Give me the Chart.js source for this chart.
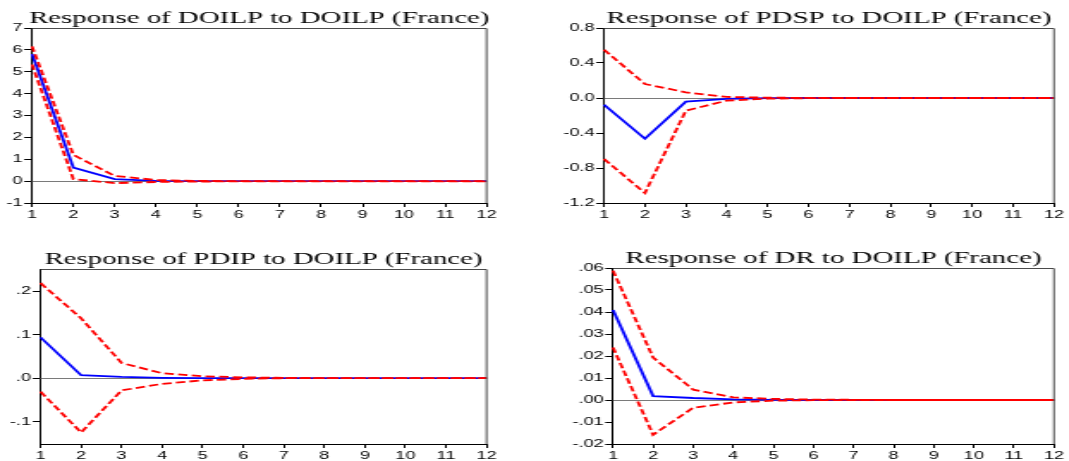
<!DOCTYPE html>
<html>
<head>
<meta charset="utf-8">
<script src="https://cdn.jsdelivr.net/npm/chart.js@4.4.1/dist/chart.umd.min.js"></script>
<style>
  html, body { margin: 0; padding: 0; background: #ffffff; }
  body { width: 1069px; height: 461px; position: relative; overflow: hidden; }
  .panel { position: absolute; transform-origin: 0 0; }
  .panel canvas { display: block; }
</style>
</head>
<body>
<div class="panel" id="p1"><canvas id="c1"></canvas></div>
<div class="panel" id="p2"><canvas id="c2"></canvas></div>
<div class="panel" id="p3"><canvas id="c3"></canvas></div>
<div class="panel" id="p4"><canvas id="c4"></canvas></div>
<script>
// ---------------- DATA ----------------
const periods = ['1','2','3','4','5','6','7','8','9','10','11','12'];

const titles = [
  'Response of DOILP to DOILP (France)',
  'Response of PDSP to DOILP (France)',
  'Response of PDIP to DOILP (France)',
  'Response of DR to DOILP (France)'
];

// Response of DOILP to DOILP
const doilpResp  = [5.81, 0.62, 0.09, 0.01, 0.00, 0.00, 0.00, 0.00, 0.00, 0.00, 0.00, 0.00];
const doilpUpper = [6.16, 1.20, 0.24, 0.05, 0.01, 0.00, 0.00, 0.00, 0.00, 0.00, 0.00, 0.00];
const doilpLower = [5.33, 0.09, -0.09, -0.04, -0.02, -0.01, -0.01, -0.01, -0.01, -0.01, -0.01, -0.01];
const doilpTicks = [-1, 0, 1, 2, 3, 4, 5, 6, 7];
const doilpTickLabels = ['-1', '0', '1', '2', '3', '4', '5', '6', '7'];

// Response of PDSP to DOILP
const pdspResp  = [-0.076, -0.465, -0.042, -0.010, -0.002, 0.000, 0.000, 0.000, 0.000, 0.000, 0.000, 0.000];
const pdspUpper = [0.552, 0.160, 0.065, 0.012, 0.004, 0.001, 0.000, 0.000, 0.000, 0.000, 0.000, 0.000];
const pdspLower = [-0.697, -1.086, -0.145, -0.030, -0.008, -0.002, 0.000, 0.000, 0.000, 0.000, 0.000, 0.000];
const pdspTicks = [-1.2, -0.8, -0.4, 0.0, 0.4, 0.8];
const pdspTickLabels = ['-1.2', '-0.8', '-0.4', '0.0', '0.4', '0.8'];

// Response of PDIP to DOILP
const pdipResp  = [0.094, 0.007, 0.003, 0.001, 0.000, 0.000, 0.000, 0.000, 0.000, 0.000, 0.000, 0.000];
const pdipUpper = [0.219, 0.138, 0.035, 0.0115, 0.0046, 0.002, 0.001, 0.000, 0.000, 0.000, 0.000, 0.000];
const pdipLower = [-0.031, -0.125, -0.028, -0.013, -0.005, -0.0015, 0.000, 0.000, 0.000, 0.000, 0.000, 0.000];
const pdipTicks = [-0.1, 0.0, 0.1, 0.2];
const pdipTickLabels = ['-.1', '.0', '.1', '.2'];

// Response of DR to DOILP
const drResp  = [0.0409, 0.0018, 0.0009, 0.0003, 0.0001, 0.0000, 0.0000, 0.0000, 0.0000, 0.0000, 0.0000, 0.0000];
const drUpper = [0.0588, 0.0193, 0.0047, 0.0012, 0.0005, 0.0002, 0.0001, 0.0000, 0.0000, 0.0000, 0.0000, 0.0000];
const drLower = [0.0239, -0.0158, -0.0035, -0.0011, -0.0003, -0.0001, 0.0000, 0.0000, 0.0000, 0.0000, 0.0000, 0.0000];
const drTicks = [-0.02, -0.01, 0.00, 0.01, 0.02, 0.03, 0.04, 0.05, 0.06];
const drTickLabels = ['-.02', '-.01', '.00', '.01', '.02', '.03', '.04', '.05', '.06'];

// ---------------- LAYOUT ----------------
const S = 1.72; // horizontal stretch of the original picture

const panels = [
  { div: 'p1', canvas: 'c1', x0: 0,   y0: 0,   w: 500, h: 222, left: 32,  right: 490,  top: 28,  bottom: 203,
    title: titles[0], resp: doilpResp, up: doilpUpper, lo: doilpLower, yMin: -1, yMax: 7, ticks: doilpTicks, labels: doilpTickLabels },
  { div: 'p2', canvas: 'c2', x0: 560, y0: 0,   w: 509, h: 222, left: 604, right: 1054, top: 28,  bottom: 203,
    title: titles[1], resp: pdspResp, up: pdspUpper, lo: pdspLower, yMin: -1.2, yMax: 0.8, ticks: pdspTicks, labels: pdspTickLabels },
  { div: 'p3', canvas: 'c3', x0: 0,   y0: 240, w: 500, h: 221, left: 40.5, right: 491, top: 269, bottom: 444,
    title: titles[2], resp: pdipResp, up: pdipUpper, lo: pdipLower, yMin: -0.1515, yMax: 0.2515, ticks: pdipTicks, labels: pdipTickLabels },
  { div: 'p4', canvas: 'c4', x0: 560, y0: 240, w: 509, h: 221, left: 613, right: 1054, top: 268, bottom: 444,
    title: titles[3], resp: drResp, up: drUpper, lo: drLower, yMin: -0.02, yMax: 0.06, ticks: drTicks, labels: drTickLabels }
];

const tickFont = { family: "'Liberation Sans', Arial, sans-serif", size: 10.5 };
const titleFont = "16.8px 'Liberation Serif', 'Times New Roman', serif";

const framePlugin = {
  id: 'frame',
  beforeDatasetsDraw(chart) {
    const { ctx, chartArea } = chart;
    const y0 = chart.scales.y.getPixelForValue(0);
    ctx.save();
    ctx.strokeStyle = '#7a7a7a';
    ctx.lineWidth = 1;
    ctx.beginPath();
    ctx.moveTo(chartArea.left, Math.round(y0) + 0.5);
    ctx.lineTo(chartArea.right, Math.round(y0) + 0.5);
    ctx.stroke();
    ctx.restore();
  },
  afterDraw(chart) {
    const { ctx, chartArea } = chart;
    ctx.save();
    ctx.strokeStyle = '#4a4a4a';
    ctx.lineWidth = 1;
    ctx.beginPath();
    ctx.moveTo(chartArea.left, Math.round(chartArea.top) + 0.5);
    ctx.lineTo(chartArea.right, Math.round(chartArea.top) + 0.5);
    ctx.lineTo(chartArea.right, chartArea.bottom);
    ctx.stroke();
    // title
    ctx.fillStyle = '#000';
    ctx.font = titleFont;
    ctx.textAlign = 'center';
    ctx.textBaseline = 'alphabetic';
    ctx.fillText(chart.options.plugins.frame.text, (chartArea.left + chartArea.right) / 2, chartArea.top - 5.5);
    ctx.restore();
  }
};

panels.forEach(p => {
  const div = document.getElementById(p.div);
  const cw = Math.round(p.w / S);
  div.style.left = p.x0 + 'px';
  div.style.top = p.y0 + 'px';
  div.style.width = cw + 'px';
  div.style.height = p.h + 'px';
  div.style.transform = 'scaleX(' + (p.w / cw) + ')';
  const sx = p.w / cw;
  const canvas = document.getElementById(p.canvas);
  canvas.width = cw;
  canvas.height = p.h;
  canvas.style.width = cw + 'px';
  canvas.style.height = p.h + 'px';

  const yAxisW = (p.left - p.x0) / sx;
  const padRight = (p.x0 + p.w - p.right) / sx;
  const xAxisH = p.y0 + p.h - p.bottom;
  const padTop = p.top - p.y0;

  new Chart(canvas, {
    type: 'line',
    data: {
      labels: periods,
      datasets: [
        { data: p.up, borderColor: '#ff0000', borderWidth: 1.8, borderDash: [5.5, 2.5], pointRadius: 0, tension: 0, fill: false },
        { data: p.lo, borderColor: '#ff0000', borderWidth: 1.8, borderDash: [5.5, 2.5], pointRadius: 0, tension: 0, fill: false },
        { data: p.resp, borderColor: '#0000ff', borderWidth: 1.8, pointRadius: 0, tension: 0, fill: false }
      ]
    },
    options: {
      responsive: false,
      maintainAspectRatio: false,
      devicePixelRatio: 1,
      animation: false,
      events: [],
      layout: { padding: { left: 0, right: padRight, top: padTop, bottom: 0 } },
      plugins: {
        legend: { display: false },
        tooltip: { enabled: false },
        title: { display: false },
        frame: { text: p.title }
      },
      scales: {
        x: {
          type: 'category',
          offset: false,
          grid: { display: true, drawOnChartArea: false, drawTicks: true, tickLength: 4, color: '#000', offset: false },
          border: { display: true, color: '#000', width: 1 },
          ticks: { color: '#000', font: tickFont, padding: 2, maxRotation: 0, minRotation: 0, autoSkip: false },
          afterFit(scale) { scale.height = xAxisH; }
        },
        y: {
          type: 'linear',
          min: p.yMin,
          max: p.yMax,
          afterBuildTicks(scale) { scale.ticks = p.ticks.map(v => ({ value: v })); },
          grid: { display: true, drawOnChartArea: false, drawTicks: true, tickLength: 4.5, color: '#000' },
          border: { display: true, color: '#000', width: 1 },
          ticks: {
            color: '#000', font: tickFont, padding: 1,
            callback: (value, index) => p.labels[index]
          },
          afterFit(scale) { scale.width = yAxisW; }
        }
      }
    },
    plugins: [framePlugin]
  });
});
</script>
</body>
</html>
